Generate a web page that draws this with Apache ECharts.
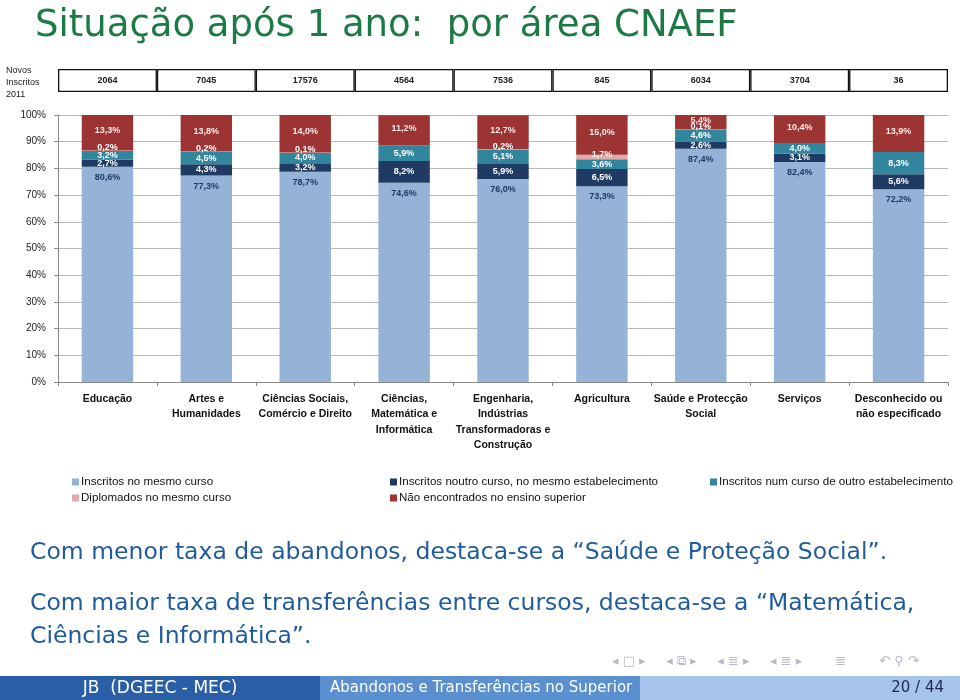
<!DOCTYPE html>
<html>
<head>
<meta charset="utf-8">
<script src="https://cdn.jsdelivr.net/npm/echarts@6/dist/echarts.min.js"></script>
<style>html,body{margin:0;padding:0;background:#fff;}#chart{width:960px;height:700px;}</style>
</head>
<body>
<div id="chart"></div>
<script>
const categories = [
  'Educação',
  'Artes e\nHumanidades',
  'Ciências Sociais,\nComércio e Direito',
  'Ciências,\nMatemática e\nInformática',
  'Engenharia,\nIndústrias\nTransformadoras e\nConstrução',
  'Agricultura',
  'Saúde e Protecção\nSocial',
  'Serviços',
  'Desconhecido ou\nnão especificado'
];
const novosInscritos = [2064, 7045, 17576, 4564, 7536, 845, 6034, 3704, 36];
const inscritosMesmoCurso = [80.6, 77.3, 78.7, 74.6, 76.0, 73.3, 87.4, 82.4, 72.2];
const inscritosNoutroCurso = [2.7, 4.3, 3.2, 8.2, 5.9, 6.5, 2.6, 3.1, 5.6];
const inscritosOutroEstab = [3.2, 4.5, 4.0, 5.9, 5.1, 3.6, 4.6, 4.0, 8.3];
const diplomadosMesmoCurso = [0.2, 0.2, 0.1, 0, 0.2, 1.7, 0.1, 0, 0];
const naoEncontrados = [13.3, 13.8, 14.0, 11.2, 12.7, 15.0, 5.4, 10.4, 13.9];
const yTicks = [0, 10, 20, 30, 40, 50, 60, 70, 80, 90, 100];

const seriesNames = [
  'Inscritos no mesmo curso',
  'Inscritos noutro curso, no mesmo estabelecimento',
  'Inscritos num curso de outro estabelecimento',
  'Diplomados no mesmo curso',
  'Não encontrados no ensino superior'
];

const chart = echarts.init(document.getElementById('chart'));
const fmt = p => (p.value ? p.value.toFixed(1).replace('.', ',') + '%' : '');
const lblFont = { fontFamily: 'Liberation Sans', fontSize: 9, fontWeight: 'bold' };

function stackSeries(name, data, color, label) {
  return {
    name, type: 'bar', stack: 'total', data,
    xAxisIndex: 0, yAxisIndex: 0,
    barWidth: '52%',
    itemStyle: { color },
    label: Object.assign({ show: true, formatter: fmt }, lblFont, label)
  };
}

const legendText = { fontFamily: 'Liberation Sans Narrow, Liberation Sans', fontSize: 11.6, color: '#111', padding: [0, 0, 0, -3] };
const legendBase = { orient: 'vertical', itemGap: 4, itemWidth: 7, itemHeight: 7, icon: 'rect', textStyle: legendText };

chart.setOption({
  animation: false,
  backgroundColor: '#fff',
  grid: [
    { left: 58, right: 12, top: 115, bottom: 318 },
    { left: 58, right: 12, top: 69, height: 23 }
  ],
  xAxis: [
    {
      type: 'category', data: categories, gridIndex: 0,
      axisLine: { lineStyle: { color: '#8a8a8a' } },
      axisTick: { show: true, length: 4, lineStyle: { color: '#8a8a8a' } },
      axisLabel: { interval: 0, margin: 9, fontFamily: 'Liberation Sans', fontSize: 10.5, fontWeight: 'bold', color: '#111', lineHeight: 15.5 }
    },
    {
      type: 'category', data: novosInscritos.map(String), gridIndex: 1,
      show: false
    }
  ],
  yAxis: [
    {
      type: 'value', min: 0, max: 100, interval: 10, gridIndex: 0,
      axisLine: { show: true, lineStyle: { color: '#8a8a8a' } },
      axisTick: { show: true, length: 4, lineStyle: { color: '#8a8a8a' } },
      axisLabel: { formatter: v => yTicks.includes(v) ? v + '%' : '', margin: 12, fontFamily: 'Liberation Sans', fontSize: 10, color: '#222' },
      splitLine: { lineStyle: { color: '#b8b8b8' } }
    },
    { type: 'value', min: 0, max: 1, gridIndex: 1, show: false }
  ],
  legend: [
    Object.assign({ left: 67, top: 471, data: [seriesNames[0], seriesNames[3]] }, legendBase),
    Object.assign({ left: 385, top: 471, data: [seriesNames[1], seriesNames[4]] }, legendBase),
    Object.assign({ left: 705, top: 471, data: [seriesNames[2]] }, legendBase)
  ],
  series: [
    stackSeries(seriesNames[0], inscritosMesmoCurso, '#95b3d7', { position: 'insideTop', distance: 6, color: '#1f3864' }),
    stackSeries(seriesNames[1], inscritosNoutroCurso, '#1f3b63', { position: 'inside', color: '#ffffff' }),
    stackSeries(seriesNames[2], inscritosOutroEstab, '#31859c', { position: 'inside', color: '#ffffff' }),
    stackSeries(seriesNames[3], diplomadosMesmoCurso, '#e6a9a8', { position: 'inside', offset: [0, -3], color: '#ffffff' }),
    stackSeries(seriesNames[4], naoEncontrados, '#9b3432', { position: 'inside', offset: [0, -2], color: '#fbe9e9' }),
    {
      name: 'Novos Inscritos 2011', type: 'bar', xAxisIndex: 1, yAxisIndex: 1,
      data: novosInscritos.map(() => 1),
      barWidth: '100%', silent: true,
      itemStyle: { color: '#fff', borderColor: '#111', borderWidth: 1.3 },
      label: { show: true, position: 'inside', formatter: p => String(novosInscritos[p.dataIndex]), fontFamily: 'Liberation Sans', fontSize: 9, fontWeight: 'bold', color: '#222' }
    }
  ],
  graphic: [
    { type: 'text', left: 35, top: 8, style: { text: 'Situação após 1 ano:  por área CNAEF', fontFamily: 'DejaVu Sans', fontSize: 37, fill: '#1c7a44' } },
    { type: 'text', left: 6, top: 65, style: { text: 'Novos\nInscritos\n2011', fontFamily: 'Liberation Sans', fontSize: 9, lineHeight: 12, fill: '#222' } },
    { type: 'text', left: 30, top: 541, style: { text: 'Com menor taxa de abandonos, destaca-se a “Saúde e Proteção Social”.', fontFamily: 'DejaVu Sans', fontSize: 23.5, fill: '#1f5c9e' } },
    { type: 'text', left: 30, top: 587, style: { text: 'Com maior taxa de transferências entre cursos, destaca-se a “Matemática,\nCiências e Informática”.', fontFamily: 'DejaVu Sans', fontSize: 23.5, lineHeight: 33, fill: '#1f5c9e' } },
    { type: 'text', left: 612, top: 655, style: { text: '◂ □ ▸     ◂ ⧉ ▸     ◂ ≣ ▸     ◂ ≣ ▸        ≣        ↶ ⚲ ↷', fontFamily: 'DejaVu Sans', fontSize: 13, fill: '#b8b8c8' } },
    { type: 'rect', shape: { x: 0, y: 676, width: 320, height: 24 }, style: { fill: '#2a5ea6' } },
    { type: 'rect', shape: { x: 320, y: 676, width: 320, height: 24 }, style: { fill: '#5a8fd0' } },
    { type: 'rect', shape: { x: 640, y: 676, width: 320, height: 24 }, style: { fill: '#a6c4ea' } },
    { type: 'text', x: 160, y: 680, style: { text: 'JB  (DGEEC - MEC)', textAlign: 'center', fontFamily: 'DejaVu Sans', fontSize: 17, fill: '#ffffff' } },
    { type: 'text', left: 330, top: 681, style: { text: 'Abandonos e Transferências no Superior', fontFamily: 'DejaVu Sans', fontSize: 15, fill: '#ffffff' } },
    { type: 'text', right: 16, top: 681, style: { text: '20 / 44', fontFamily: 'DejaVu Sans', fontSize: 15, fill: '#1a2a55' } }
  ]
});
</script>
</body>
</html>
